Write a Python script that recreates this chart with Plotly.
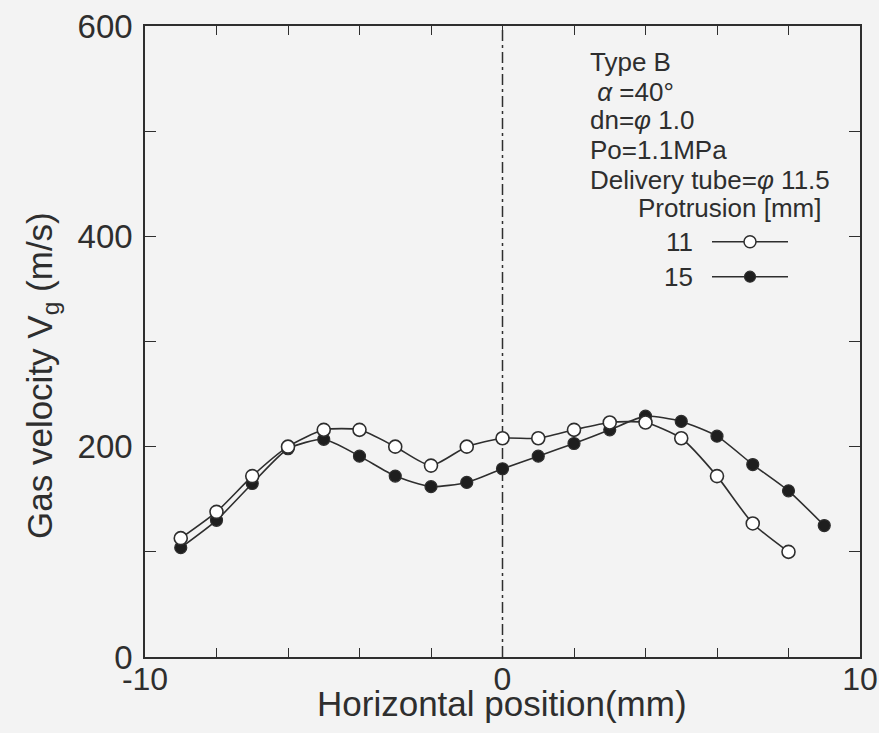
import plotly.graph_objects as go

# ---- data ----
x_11 = [-9, -8, -7, -6, -5, -4, -3, -2, -1, 0, 1, 2, 3, 4, 5, 6, 7, 8]
v_11 = [113, 138, 172, 200, 216, 216, 200, 182, 200, 208, 208, 216, 223, 223, 208, 172, 127, 100]

x_15 = [-9, -8, -7, -6, -5, -4, -3, -2, -1, 0, 1, 2, 3, 4, 5, 6, 7, 8, 9]
v_15 = [104, 130, 165, 198, 207, 191, 172, 162, 166, 179, 191, 203, 216, 229, 224, 210, 183, 158, 125]

x_ticks = [-10, 0, 10]
y_ticks = [0, 200, 400, 600]

info_lines = ["Type B", " <i>α</i> =40°", "dn=<i>φ</i> 1.0", "Po=1.1MPa",
              "Delivery tube=<i>φ</i> 11.5"]
legend_title = "Protrusion [mm]"
legend_labels = ["11", "15"]

# ---- layout geometry ----
W, H = 879, 733
L, R, T, B = 145, 860, 26, 657
INK = "#2e2e2e"
BG = "#f3f3f3"
FONT = "Liberation Sans, Arial, Helvetica, sans-serif"


def px(xp):
    return (xp - L) / (R - L)


def py(yp):
    return (B - yp) / (B - T)


fig = go.Figure()

fig.add_trace(go.Scatter(
    x=x_15, y=v_15, mode="lines+markers", name="15",
    line=dict(color=INK, width=1.6, shape="spline", smoothing=0.6),
    marker=dict(symbol="circle", size=12, color="#1e1e1e", line=dict(color=INK, width=1.2)),
    showlegend=False))

fig.add_trace(go.Scatter(
    x=x_11, y=v_11, mode="lines+markers", name="11",
    line=dict(color=INK, width=1.6, shape="spline", smoothing=0.6),
    marker=dict(symbol="circle", size=13, color="white", line=dict(color=INK, width=1.6)),
    showlegend=False))

# centre line (dash-dot)
fig.add_shape(type="line", xref="x", yref="paper", x0=0, x1=0, y0=0, y1=1,
              line=dict(color=INK, width=1.5, dash="11px,4px,3px,4px"), layer="below")

TXT = 26
annotations = []
info_y = [61.7, 91.7, 120, 150, 180]
for txt, yy in zip(info_lines, info_y):
    annotations.append(dict(x=px(588), y=py(yy), xref="paper", yref="paper", text=txt,
                            showarrow=False, xanchor="left", yanchor="middle",
                            font=dict(family=FONT, size=TXT, color=INK)))
annotations.append(dict(x=px(636), y=py(208), xref="paper", yref="paper", text=legend_title,
                        showarrow=False, xanchor="left", yanchor="middle",
                        font=dict(family=FONT, size=TXT, color=INK)))
leg_y = [241.7, 276.7]
for lab, yy in zip(legend_labels, leg_y):
    annotations.append(dict(x=px(695), y=py(yy), xref="paper", yref="paper", text=lab,
                            showarrow=False, xanchor="right", yanchor="middle",
                            font=dict(family=FONT, size=TXT, color=INK)))
    fig.add_shape(type="line", xref="paper", yref="paper", x0=px(712), x1=px(788),
                  y0=py(yy), y1=py(yy), line=dict(color=INK, width=1.5))
fig.add_shape(type="circle", xref="paper", yref="paper", xsizemode="pixel", ysizemode="pixel",
              xanchor=px(750), yanchor=py(leg_y[0]), x0=-6, x1=6, y0=-6, y1=6,
              fillcolor="white", line=dict(color=INK, width=1.5))
fig.add_shape(type="circle", xref="paper", yref="paper", xsizemode="pixel", ysizemode="pixel",
              xanchor=px(750), yanchor=py(leg_y[1]), x0=-5.5, x1=5.5, y0=-5.5, y1=5.5,
              fillcolor="#1e1e1e", line=dict(color=INK, width=1.2))

# axis titles
annotations.append(dict(x=px(502), y=py(703), xref="paper", yref="paper",
                        text="Horizontal position(mm)", showarrow=False,
                        xanchor="center", yanchor="middle",
                        font=dict(family=FONT, size=35, color=INK)))
annotations.append(dict(x=px(42), y=py(376), xref="paper", yref="paper",
                        text="Gas velocity V<sub>g</sub> (m/s)", showarrow=False, textangle=-90,
                        xanchor="center", yanchor="middle",
                        font=dict(family=FONT, size=35, color=INK)))

fig.update_layout(
    width=W, height=H,
    margin=dict(l=L, r=W - R, t=T, b=H - B, pad=0, autoexpand=False),
    paper_bgcolor=BG, plot_bgcolor=BG,
    font=dict(family=FONT, color=INK),
    annotations=annotations,
    showlegend=False,
)

fig.update_xaxes(
    range=[-10, 10], tickvals=x_ticks, ticktext=[str(v) for v in x_ticks],
    ticks="inside", ticklen=11, tickwidth=1.3, tickcolor=INK,
    minor=dict(dtick=2, tick0=0, ticks="inside", ticklen=9, tickwidth=1.3, tickcolor=INK),
    showline=True, linecolor=INK, linewidth=1.5, mirror="ticks",
    showgrid=False, zeroline=False, automargin=False,
    tickfont=dict(family=FONT, size=32, color=INK), ticklabelstandoff=-7,
)
fig.update_yaxes(
    range=[0, 600], tickvals=y_ticks, ticktext=[str(v) for v in y_ticks],
    ticks="inside", ticklen=11, tickwidth=1.3, tickcolor=INK,
    minor=dict(dtick=100, tick0=0, ticks="inside", ticklen=11, tickwidth=1.3, tickcolor=INK),
    showline=True, linecolor=INK, linewidth=1.5, mirror="ticks",
    showgrid=False, zeroline=False, automargin=False,
    tickfont=dict(family=FONT, size=33, color=INK), ticklabelstandoff=4,
)

fig.write_html("out.html", config={"displayModeBar": False},
               post_script="document.body.style.margin='0';"
                           "document.body.style.background='" + BG + "';")
